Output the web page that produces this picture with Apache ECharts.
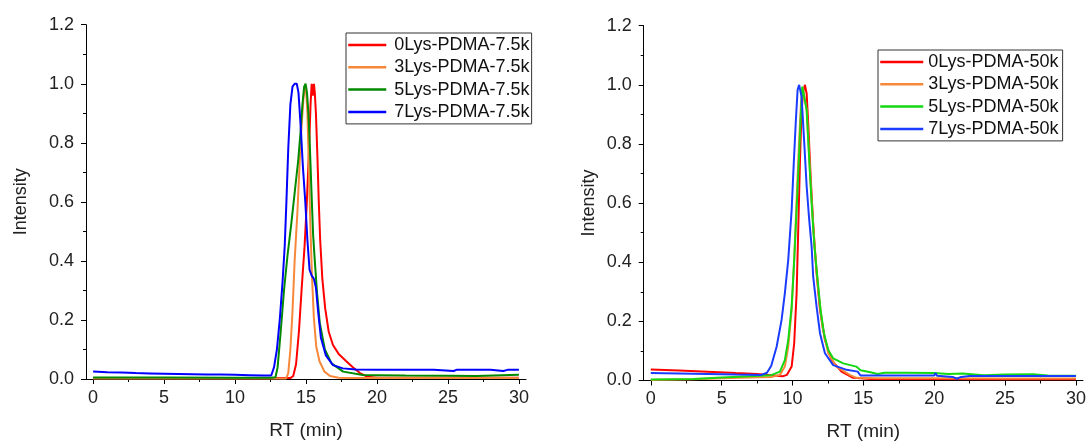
<!DOCTYPE html>
<html>
<head>
<meta charset="utf-8">
<script src="https://cdn.jsdelivr.net/npm/echarts@6/dist/echarts.min.js"></script>
<style>
html,body{margin:0;padding:0;background:#fff;}
#chart{width:1088px;height:441px;}
</style>
</head>
<body>
<div id="chart"></div>
<script>
// ---------- tick labels ----------
const xTicks = [0, 5, 10, 15, 20, 25, 30];
const xMinorTicks = [2.5, 7.5, 12.5, 17.5, 22.5, 27.5];
const xAxisTitle = 'RT (min)';
const yAxisTitle = 'Intensity';

// ---------- left panel (7.5k) ----------
const namesLeft = ['0Lys-PDMA-7.5k', '3Lys-PDMA-7.5k', '5Lys-PDMA-7.5k', '7Lys-PDMA-7.5k'];

const rt_0Lys_7_5k  = [0, 6, 12, 13.9, 14.1, 14.3, 14.5, 14.7, 14.9, 15.05, 15.2, 15.32, 15.4, 15.48, 15.56, 15.62, 15.7, 15.8, 15.9, 16.0, 16.15, 16.35, 16.6, 16.9, 17.3, 17.8, 18.3, 18.8, 19.3, 20, 25, 30];
const int_0Lys_7_5k = [0.003, 0.003, 0.003, 0.003, 0.01, 0.05, 0.16, 0.31, 0.45, 0.59, 0.76, 0.93, 1.0, 0.96, 1.0, 0.97, 0.9, 0.76, 0.6, 0.47, 0.34, 0.24, 0.16, 0.115, 0.085, 0.062, 0.04, 0.02, 0.008, 0.004, 0.004, 0.004];

const rt_3Lys_7_5k  = [0, 6, 12, 13.6, 13.75, 13.9, 14.05, 14.2, 14.4, 14.56, 14.68, 14.82, 14.94, 15.02, 15.1, 15.2, 15.3, 15.42, 15.55, 15.72, 15.95, 16.3, 16.7, 17.3, 18, 20, 25, 30];
const int_3Lys_7_5k = [0.002, 0.002, 0.002, 0.002, 0.02, 0.1, 0.23, 0.4, 0.57, 0.74, 0.85, 0.95, 0.99, 0.97, 0.9, 0.72, 0.53, 0.35, 0.21, 0.11, 0.06, 0.025, 0.01, 0.004, 0.003, 0.003, 0.003, 0.003];

const rt_5Lys_7_5k  = [0, 5, 10, 12.5, 12.85, 13.0, 13.2, 13.45, 13.7, 13.95, 14.2, 14.45, 14.62, 14.75, 14.87, 14.97, 15.07, 15.17, 15.27, 15.39, 15.5, 15.62, 15.78, 15.97, 16.33, 16.8, 17.62, 19.0, 20, 22, 25, 27, 30];
const int_5Lys_7_5k = [0.005, 0.005, 0.004, 0.004, 0.006, 0.04, 0.15, 0.3, 0.42, 0.52, 0.63, 0.74, 0.84, 0.93, 0.99, 1.0, 0.97, 0.9, 0.79, 0.63, 0.49, 0.4, 0.29, 0.19, 0.1, 0.053, 0.025, 0.0135, 0.013, 0.012, 0.011, 0.01, 0.014];

const rt_7Lys_7_5k  = [0, 1, 2, 3, 4, 5, 6, 7, 8, 9, 10, 11, 12, 12.55, 12.75, 12.95, 13.15, 13.35, 13.5, 13.62, 13.75, 13.9, 14.05, 14.2, 14.35, 14.47, 14.62, 14.78, 14.95, 15.1, 15.25, 15.4, 15.55, 15.7, 15.85, 16.05, 16.4, 16.9, 17.6, 18.5, 20, 22, 24, 25.4, 25.6, 28, 28.9, 29.2, 30];
const int_7Lys_7_5k = [0.025, 0.023, 0.022, 0.02, 0.019, 0.018, 0.017, 0.016, 0.015, 0.015, 0.014, 0.013, 0.012, 0.012, 0.04, 0.1, 0.2, 0.33, 0.45, 0.6, 0.78, 0.93, 0.99, 1.0, 1.0, 0.97, 0.86, 0.72, 0.6, 0.47, 0.37, 0.35, 0.34, 0.31, 0.23, 0.14, 0.08, 0.047, 0.036, 0.032, 0.031, 0.031, 0.031, 0.027, 0.031, 0.031, 0.027, 0.031, 0.031];

// ---------- right panel (50k) ----------
const namesRight = ['0Lys-PDMA-50k', '3Lys-PDMA-50k', '5Lys-PDMA-50k', '7Lys-PDMA-50k'];

const rt_0Lys_50k  = [0, 2, 4, 6, 7.5, 8.5, 9.3, 9.6, 9.94, 10.12, 10.29, 10.41, 10.53, 10.64, 10.76, 10.88, 11.0, 11.12, 11.28, 11.47, 11.7, 11.94, 12.29, 12.76, 13.46, 14.28, 15.5, 20, 25, 30];
const int_0Lys_50k = [0.037, 0.034, 0.03, 0.025, 0.022, 0.018, 0.014, 0.019, 0.047, 0.126, 0.295, 0.52, 0.746, 0.915, 0.977, 1.0, 0.97, 0.86, 0.69, 0.52, 0.363, 0.239, 0.137, 0.069, 0.03, 0.009, 0.005, 0.005, 0.004, 0.004];

const rt_3Lys_50k  = [0, 3, 5, 7, 8.5, 9.11, 9.46, 9.7, 9.94, 10.12, 10.29, 10.45, 10.6, 10.73, 10.83, 11.0, 11.18, 11.35, 11.58, 11.82, 12.12, 12.52, 13.1, 14.04, 14.5, 16, 20, 25, 30];
const int_3Lys_50k = [0.002, 0.004, 0.008, 0.01, 0.012, 0.019, 0.047, 0.114, 0.239, 0.408, 0.61, 0.79, 0.938, 0.99, 0.99, 0.915, 0.757, 0.61, 0.44, 0.306, 0.18, 0.092, 0.047, 0.019, 0.009, 0.008, 0.008, 0.007, 0.007];

const rt_5Lys_50k  = [0, 3, 5, 7, 8.5, 9.11, 9.46, 9.7, 9.94, 10.12, 10.29, 10.45, 10.57, 10.69, 10.8, 11.0, 11.18, 11.35, 11.53, 11.75, 11.98, 12.22, 12.52, 12.87, 13.58, 14.5, 14.8, 15.5, 16, 16.5, 18, 20, 21, 22, 23.5, 25, 27, 28, 30];
const int_5Lys_50k = [0.003, 0.005, 0.01, 0.014, 0.018, 0.03, 0.069, 0.137, 0.25, 0.408, 0.577, 0.746, 0.882, 0.994, 1.0, 0.915, 0.746, 0.6, 0.464, 0.351, 0.239, 0.16, 0.103, 0.075, 0.058, 0.047, 0.035, 0.028, 0.022, 0.026, 0.026, 0.025, 0.022, 0.024, 0.018, 0.02, 0.021, 0.017, 0.016];

const rt_7Lys_50k  = [0, 3, 6, 7.8, 8.2, 8.5, 8.88, 9.23, 9.46, 9.7, 9.94, 10.1, 10.24, 10.36, 10.47, 10.64, 10.83, 11.0, 11.18, 11.35, 11.46, 11.7, 11.94, 12.29, 12.87, 13.82, 14.6, 14.8, 20, 20.1, 20.2, 21.3, 21.6, 21.9, 22.5, 30];
const int_7Lys_50k = [0.025, 0.023, 0.02, 0.019, 0.026, 0.05, 0.114, 0.205, 0.295, 0.408, 0.577, 0.746, 0.882, 0.983, 1.0, 0.96, 0.803, 0.656, 0.543, 0.453, 0.351, 0.25, 0.16, 0.092, 0.052, 0.036, 0.03, 0.017, 0.017, 0.025, 0.016, 0.012, 0.006, 0.012, 0.015, 0.015];

const colorsLeft  = ['#ff0000', '#f7883a', '#008a00', '#0000ff'];
const colorsRight = ['#ff0000', '#f7883a', '#14d814', '#1a3cff'];

function zip(xs, ys) { return xs.map((x, i) => [x, ys[i]]); }

const leftData  = [zip(rt_0Lys_7_5k, int_0Lys_7_5k), zip(rt_3Lys_7_5k, int_3Lys_7_5k), zip(rt_5Lys_7_5k, int_5Lys_7_5k), zip(rt_7Lys_7_5k, int_7Lys_7_5k)];
const rightData = [zip(rt_0Lys_50k, int_0Lys_50k), zip(rt_3Lys_50k, int_3Lys_50k), zip(rt_5Lys_50k, int_5Lys_50k), zip(rt_7Lys_50k, int_7Lys_50k)];

const FONT = 'Liberation Sans, Arial, sans-serif';
const TXT = '#222';

function mainX(gi) {
  return {
    type: 'value', gridIndex: gi, min: -0.5, max: 30.5, position: 'bottom',
    name: xAxisTitle, nameLocation: 'middle', nameGap: 42,
    nameTextStyle: { fontFamily: FONT, fontSize: 19, color: TXT },
    axisLine: { show: true, onZero: false, lineStyle: { color: '#000', width: 1 } },
    axisTick: { show: true, inside: false, length: 5, customValues: xTicks, lineStyle: { color: '#000' } },
    axisLabel: { show: true, customValues: xTicks, margin: 10, fontFamily: FONT, fontSize: 18, color: TXT },
    splitLine: { show: false }
  };
}
function minorX(gi) {
  return {
    type: 'value', gridIndex: gi, min: -0.5, max: 30.5, position: 'bottom',
    axisLine: { show: false, onZero: false },
    axisTick: { show: true, inside: false, length: 3, customValues: xMinorTicks, lineStyle: { color: '#000' } },
    axisLabel: { show: false },
    splitLine: { show: false }
  };
}
function mainY(gi, gap) {
  return {
    type: 'value', gridIndex: gi, min: 0, max: 1.2, interval: 0.2,
    name: yAxisTitle, nameLocation: 'middle', nameGap: gap,
    nameTextStyle: { fontFamily: FONT, fontSize: 18, color: TXT },
    axisLine: { show: true, onZero: false, lineStyle: { color: '#000', width: 1 } },
    axisTick: { show: true, inside: false, length: 5, lineStyle: { color: '#000' } },
    minorTick: { show: true, splitNumber: 2, length: 3, lineStyle: { color: '#000' } },
    axisLabel: { margin: 12, fontFamily: FONT, fontSize: 18, color: TXT, formatter: v => v.toFixed(1) },
    splitLine: { show: false }
  };
}

const series = [];
leftData.forEach((d, i) => series.push({
  name: namesLeft[i], type: 'line', xAxisIndex: 0, yAxisIndex: 0, data: d,
  symbol: 'none', showSymbol: false, lineStyle: { width: 2, color: colorsLeft[i] }, itemStyle: { color: colorsLeft[i] }
}));
rightData.forEach((d, i) => series.push({
  name: namesRight[i], type: 'line', xAxisIndex: 1, yAxisIndex: 1, data: d,
  symbol: 'none', showSymbol: false, lineStyle: { width: 2, color: colorsRight[i] }, itemStyle: { color: colorsRight[i] }
}));

const legendBase = {
  orient: 'vertical', borderColor: '#333', borderWidth: 1, itemHeight: 18, itemGap: 4.3,
  itemStyle: { opacity: 0 },
  lineStyle: { width: 2.5 },
  textStyle: { fontFamily: FONT, fontSize: 18, color: '#111' }, backgroundColor: '#fff'
};

const option = {
  animation: false,
  backgroundColor: '#fff',
  grid: [
    { left: 86, top: 24.7, width: 440, height: 354.3, containLabel: false, outerBoundsMode: 'none' },
    { left: 643.7, top: 25.7, width: 439.3, height: 354.8, containLabel: false, outerBoundsMode: 'none' }
  ],
  xAxis: [mainX(0), mainX(1), minorX(0), minorX(1)],
  yAxis: [mainY(0, 56), mainY(1, 46)],
  legend: [
    Object.assign({}, legendBase, { data: namesLeft, left: 346, top: 33, itemWidth: 38, padding: [3, 2, 3, 1], textStyle: Object.assign({}, legendBase.textStyle, { padding: [0, 0, 0, 3] }) }),
    Object.assign({}, legendBase, { data: namesRight, left: 878, top: 50, itemWidth: 43, padding: [3, 4, 3, 1] })
  ],
  series: series
};

const chart = echarts.init(document.getElementById('chart'), null, { renderer: 'canvas' });
chart.setOption(option);
</script>
</body>
</html>
